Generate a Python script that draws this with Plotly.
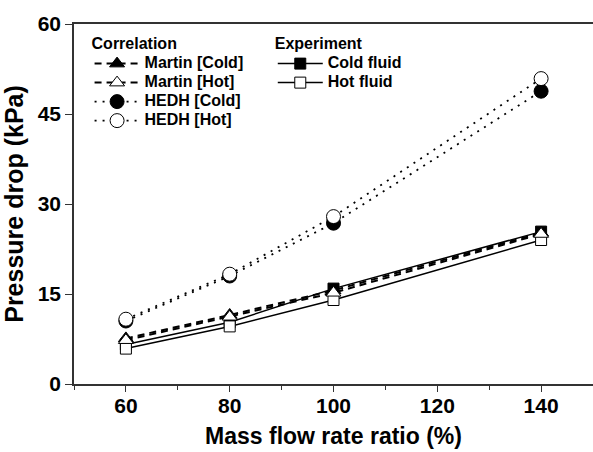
import plotly.graph_objects as go

x_vals = [60, 80, 100, 140]

martin_cold = [7.6, 11.5, 15.6, 25.2]
martin_hot = [7.3, 11.2, 15.2, 25.0]
hedh_cold = [10.5, 18.0, 26.8, 48.8]
hedh_hot = [10.8, 18.3, 27.9, 50.9]
exp_cold = [6.6, 10.3, 15.9, 25.4]
exp_hot = [5.9, 9.6, 14.0, 24.0]

x_ticks = [60, 80, 100, 120, 140]
y_ticks = [0, 15, 30, 45, 60]

FONT = "Liberation Sans, Arial, sans-serif"
MLINE = dict(color="black", width=1)


def lab(s):
    return "<span style='font-size:16px'>" + s + "</span>"


fig = go.Figure()

fig.add_trace(go.Scatter(x=x_vals, y=exp_cold, name=lab("Cold fluid"), legend="legend2",
                         mode="lines+markers",
                         line=dict(color="black", width=1.5),
                         marker=dict(symbol="square", size=11, color="black", line=MLINE)))
fig.add_trace(go.Scatter(x=x_vals, y=exp_hot, name=lab("Hot fluid"), legend="legend2",
                         mode="lines+markers",
                         line=dict(color="black", width=1.5),
                         marker=dict(symbol="square", size=11, color="white", line=MLINE)))
fig.add_trace(go.Scatter(x=x_vals, y=martin_cold, name=lab("Martin [Cold]"), legend="legend",
                         mode="lines+markers",
                         line=dict(color="black", width=2, dash="7px,5px"),
                         marker=dict(symbol="triangle-up", size=13, color="black", line=MLINE)))
fig.add_trace(go.Scatter(x=x_vals, y=martin_hot, name=lab("Martin [Hot]"), legend="legend",
                         mode="lines+markers",
                         line=dict(color="black", width=2, dash="7px,5px"),
                         marker=dict(symbol="triangle-up", size=13, color="white", line=MLINE)))
fig.add_trace(go.Scatter(x=x_vals, y=hedh_cold, name=lab("HEDH [Cold]"), legend="legend",
                         mode="lines+markers",
                         line=dict(color="black", width=1.8, dash="2px,6px"),
                         marker=dict(symbol="circle", size=14, color="black", line=MLINE)))
fig.add_trace(go.Scatter(x=x_vals, y=hedh_hot, name=lab("HEDH [Hot]"), legend="legend",
                         mode="lines+markers",
                         line=dict(color="black", width=1.8, dash="2px,6px"),
                         marker=dict(symbol="circle", size=14, color="white", line=MLINE)))

legfont = dict(family=FONT, size=12, color="black", weight="bold")
titlefont = dict(family=FONT, size=16, color="black", weight="bold")

fig.update_layout(
    width=593, height=452,
    margin=dict(l=74, r=0, t=24, b=68),
    paper_bgcolor="white", plot_bgcolor="white",
    legend=dict(x=0.03, y=0.988, xanchor="left", yanchor="top",
                font=legfont, bgcolor="rgba(0,0,0,0)",
                title=dict(text="Correlation", font=titlefont),
                itemwidth=45, tracegroupgap=0),
    legend2=dict(x=0.383, y=0.988, xanchor="left", yanchor="top",
                 font=legfont, bgcolor="rgba(0,0,0,0)",
                 title=dict(text="Experiment", font=titlefont),
                 itemwidth=45, tracegroupgap=0),
    xaxis=dict(range=[50, 150], tickvals=x_ticks, ticktext=[str(v) for v in x_ticks],
               showgrid=False, zeroline=False,
               showline=True, linecolor="#333", linewidth=1.5, mirror=True,
               ticks="outside", ticklen=6, tickwidth=1.2, tickcolor="#333",
               ticklabelstandoff=-4,
               minor=dict(tickvals=[50, 70, 90, 110, 130, 150], ticks="outside", ticklen=4,
                          tickwidth=1.2, tickcolor="#333"),
               tickfont=dict(family=FONT, size=21, color="black", weight="bold"),
               title=dict(text="Mass flow rate ratio (%)", standoff=12,
                          font=dict(family=FONT, size=23, color="black", weight="bold"))),
    yaxis=dict(range=[0, 60], tickvals=y_ticks, ticktext=[str(v) for v in y_ticks],
               showgrid=False, zeroline=False,
               showline=True, linecolor="#333", linewidth=1.5, mirror=False,
               ticks="outside", ticklen=7, tickwidth=1.2, tickcolor="#333",
               tickfont=dict(family=FONT, size=21, color="black", weight="bold"),
               title=dict(text="Pressure drop (kPa)", standoff=8,
                          font=dict(family=FONT, size=25, color="black", weight="bold"))),
)

fig.write_html("out.html")
